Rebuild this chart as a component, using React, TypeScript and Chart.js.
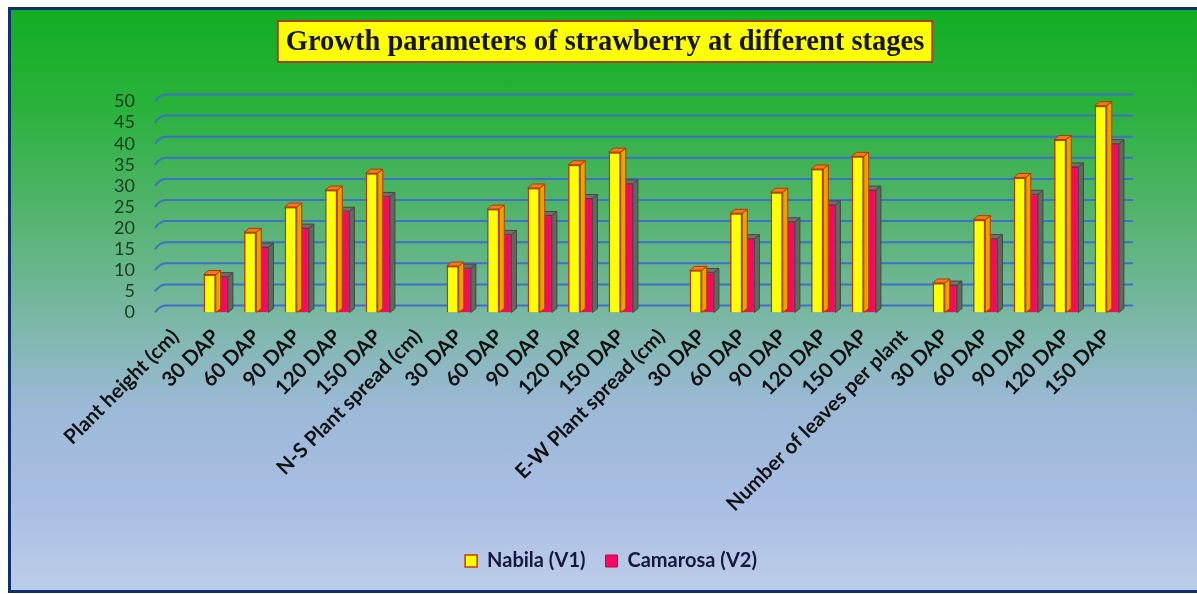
import React, { useEffect, useRef } from "react";
import { Chart, registerables } from "chart.js";

Chart.register(...registerables);

const chartTitle = "Growth parameters of strawberry at different stages";

const categories = [
  "Plant height (cm)", "30 DAP", "60 DAP", "90 DAP", "120 DAP", "150 DAP",
  "N-S Plant spread (cm)", "30 DAP", "60 DAP", "90 DAP", "120 DAP", "150 DAP",
  "E-W Plant spread (cm)", "30 DAP", "60 DAP", "90 DAP", "120 DAP", "150 DAP",
  "Number of leaves per plant", "30 DAP", "60 DAP", "90 DAP", "120 DAP", "150 DAP",
];

const seriesNames = ["Nabila (V1)", "Camarosa (V2)"];

const nabila = [
  null, 9, 19, 25, 29, 33,
  null, 11, 24.5, 29.5, 35, 38,
  null, 10, 23.5, 28.5, 34, 37,
  null, 7, 22, 32, 41, 49,
];

const camarosa = [
  null, 8.5, 15.5, 20, 24, 27.5,
  null, 10.5, 18.5, 23, 27, 30.5,
  null, 9.5, 17.5, 21.5, 25.5, 29,
  null, 6.5, 17.5, 28, 34.5, 40,
];

const yMin = 0;
const yMax = 50;
const yStep = 5;

const faceStyles = [
  { side: "#e9a400", top: "#f47a1c", stroke: "#b23a00" },
  { side: "#5c6b5e", top: "#7d6a6c", stroke: "#3e4a40" },
];

const backGridPlugin = {
  id: "backGrid",
  beforeDatasetsDraw(chart: any) {
    const { ctx, chartArea, scales } = chart;
    const y = scales.y;
    ctx.save();
    ctx.strokeStyle = "#3f6fc6";
    ctx.lineWidth = 2;
    y.ticks.forEach((t: any) => {
      const py = y.getPixelForValue(t.value);
      ctx.beginPath();
      ctx.moveTo(chartArea.left, py);
      ctx.quadraticCurveTo(chartArea.left + 4, py - 6, chartArea.left + 10, py - 7);
      ctx.lineTo(chartArea.right + 6, py - 7);
      ctx.stroke();
    });
    ctx.restore();
  },
};

const bar3dPlugin = {
  id: "bar3d",
  afterDatasetDraw(chart: any, args: any) {
    const f = faceStyles[args.index];
    if (!f) return;
    const ctx = chart.ctx;
    const dx = 5;
    const dy = 4;
    ctx.save();
    ctx.lineWidth = 1;
    ctx.strokeStyle = f.stroke;
    args.meta.data.forEach((el: any) => {
      const p = el.getProps(["x", "y", "base", "width"], true);
      if (!isFinite(p.y) || !isFinite(p.base) || Math.abs(p.base - p.y) < 0.5) return;
      const l = p.x - p.width / 2;
      const r = p.x + p.width / 2;
      ctx.beginPath();
      ctx.moveTo(r, p.y);
      ctx.lineTo(r + dx, p.y - dy);
      ctx.lineTo(r + dx, p.base - dy);
      ctx.lineTo(r, p.base);
      ctx.closePath();
      ctx.fillStyle = f.side;
      ctx.fill();
      ctx.stroke();
      ctx.beginPath();
      ctx.moveTo(l, p.y);
      ctx.lineTo(l + dx, p.y - dy);
      ctx.lineTo(r + dx, p.y - dy);
      ctx.lineTo(r, p.y);
      ctx.closePath();
      ctx.fillStyle = f.top;
      ctx.fill();
      ctx.stroke();
    });
    ctx.restore();
  },
};

const titleBoxPlugin = {
  id: "titleBox",
  afterDraw(chart: any) {
    const ctx = chart.ctx;
    ctx.save();
    ctx.font = "bold 28.5px 'Liberation Serif', 'Times New Roman', serif";
    const w = ctx.measureText(chartTitle).width;
    const cx = 594;
    const top = 11;
    const h = 41;
    const bw = w + 16;
    ctx.fillStyle = "#ffff00";
    ctx.fillRect(cx - bw / 2, top, bw, h);
    ctx.lineWidth = 2;
    ctx.strokeStyle = "#a8401a";
    ctx.strokeRect(cx - bw / 2, top, bw, h);
    ctx.fillStyle = "#151515";
    ctx.textAlign = "center";
    ctx.textBaseline = "middle";
    ctx.fillText(chartTitle, cx, top + h / 2 + 1);
    ctx.restore();
  },
};

export default function App() {
  const canvasRef = useRef<HTMLCanvasElement | null>(null);

  useEffect(() => {
    document.documentElement.style.overflow = "hidden";
    const canvas = canvasRef.current;
    if (!canvas) return;
    const chart = new Chart(canvas, {
      type: "bar",
      data: {
        labels: categories,
        datasets: [
          {
            label: seriesNames[0],
            data: nabila,
            backgroundColor: "#ffff00",
            borderColor: "#c03c00",
            borderWidth: 1.5,
            categoryPercentage: 0.6,
            barPercentage: 1,
          },
          {
            label: seriesNames[1],
            data: camarosa,
            backgroundColor: "#f8085e",
            borderColor: "#c8004a",
            borderWidth: 1,
            categoryPercentage: 0.6,
            barPercentage: 1,
          },
        ],
      },
      options: {
        responsive: false,
        animation: false,
        layout: { padding: { top: 91.5, right: 70, bottom: 9, left: 84 } },
        plugins: {
          title: { display: false },
          tooltip: { enabled: false },
          legend: {
            display: true,
            position: "bottom",
            labels: {
              boxWidth: 12,
              boxHeight: 12,
              padding: 20,
              color: "#161640",
              font: { family: "Lato", size: 20, weight: "bold" },
            },
          },
        },
        scales: {
          x: {
            grid: { display: false, drawTicks: false },
            border: { display: false },
            ticks: {
              autoSkip: false,
              minRotation: 45,
              maxRotation: 45,
              padding: 12,
              color: "#111111",
              font: { family: "Lato", size: 20.5, weight: "bold" },
            },
            afterFit: (s: any) => {
              s.height = 218.5;
              s.paddingLeft = 0;
              s.paddingRight = 0;
            },
          },
          y: {
            min: yMin,
            max: yMax,
            grid: { display: false, drawTicks: false },
            border: { display: false },
            ticks: {
              stepSize: yStep,
              autoSkip: false,
              padding: 20,
              color: "#1a3d22",
              font: { family: "Lato", size: 18 },
            },
            afterFit: (s: any) => {
              s.width = 60;
            },
          },
        },
      },
      plugins: [backGridPlugin, bar3dPlugin, titleBoxPlugin],
    });
    return () => chart.destroy();
  }, []);

  return (
    <div
      style={{
        position: "absolute",
        left: 8,
        top: 7,
        width: 1189,
        height: 586,
        boxSizing: "border-box",
        borderTop: "3px solid #10306e",
        borderLeft: "3px solid #10306e",
        borderBottom: "3px solid #10306e",
        background:
          "linear-gradient(to bottom, #12ae22 0%, #28b23a 16%, #55b470 36%, #78b7a2 52%, #9bb9d6 68%, #a9bde3 84%, #bccde8 100%)",
      }}
    >
      <canvas ref={canvasRef} width={1186} height={580} style={{ display: "block" }} />
    </div>
  );
}
